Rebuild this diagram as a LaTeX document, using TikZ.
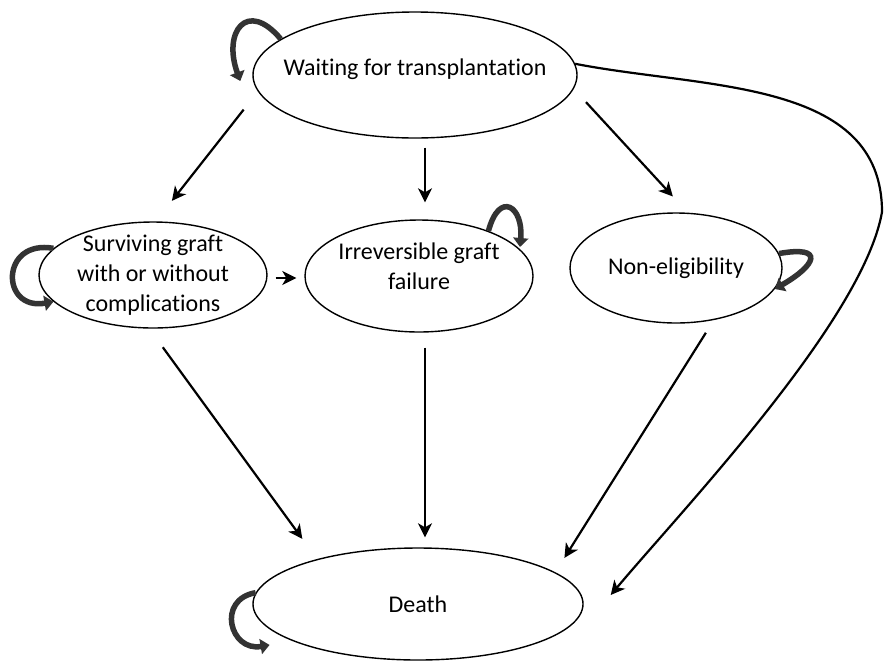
\documentclass[tikz,border=0pt]{standalone}
\usepackage{fontspec}
\setmainfont{Carlito}[Ligatures=CommonOff]
\usetikzlibrary{shapes.geometric,arrows.meta}

\begin{document}
\begin{tikzpicture}[x=1pt,y=1pt,
  state/.style={ellipse,draw,line width=1.4pt,inner sep=-30pt,align=center,font=\fontsize{24}{30}\selectfont},
  trans/.style={line width=2.2pt,-{Stealth[length=14pt,width=14pt,inset=4pt]}},
  selfloop/.style={line width=5.5pt,black!80,-{Triangle[length=9pt,width=15pt]}}]
\useasboundingbox (0,0) rectangle (885,-662);
\node[state,minimum width=324pt,minimum height=126pt,text depth=15pt] (wait) at (415,-75) {Waiting for transplantation};
\node[state,minimum width=228pt,minimum height=106pt] (surv) at (153,-275) {Surviving graft\\with or without\\complications};
\node[state,minimum width=228pt,minimum height=112pt,text height=27pt] (irr) at (419,-276) {Irreversible graft\\failure};
\node[state,minimum width=212pt,minimum height=110pt] (nonel) at (676,-268) {Non-eligibility};
\node[state,minimum width=330pt,minimum height=112pt] (death) at (418,-604) {Death};
\coordinate (bendR) at (882,-212);

\draw[trans,shorten <=23pt,shorten >=26pt] (wait.186) -- (surv.87);
\draw[trans,shorten <=9pt,shorten >=17pt] ([xshift=10pt]wait.south) -- ([xshift=6pt]irr.north);
\draw[trans,shorten <=18pt,shorten >=22pt] (wait.355) -- (nonel.78);
\draw[trans,shorten <=8pt,shorten >=8pt] ([yshift=-3pt]surv.east) -- ([yshift=-2pt]irr.west);
\draw[trans,shorten <=23pt,shorten >=25pt] (surv.266) -- (death.156);
\draw[trans,shorten <=15pt,shorten >=10pt] ([xshift=6pt]irr.south) -- ([xshift=7pt]death.north);
\draw[trans,shorten <=15pt,shorten >=17pt] (nonel.306) -- (death.13);
\draw[trans] (wait.4) to[out=-11,in=90] (bendR) to[out=-100,in=50,looseness=0.6] ([xshift=27pt,yshift=9pt]death.east);

\draw[selfloop] (wait.165) to[out=130,in=110,looseness=2.3] ([xshift=-12pt,yshift=-6pt]wait.west);
\draw[selfloop] (surv.165) to[out=170,in=190,looseness=2.6] (surv.195);
\draw[selfloop,shorten >=2pt] (irr.33) to[out=75,in=85,looseness=3] (irr.15);
\draw[selfloop] (nonel.8) to[out=10,in=30,looseness=3.4] (nonel.348);
\draw[selfloop] (death.176) to[out=190,in=190,looseness=1.9] ([xshift=-18pt,yshift=-6pt]death.195);
\end{tikzpicture}
\end{document}
